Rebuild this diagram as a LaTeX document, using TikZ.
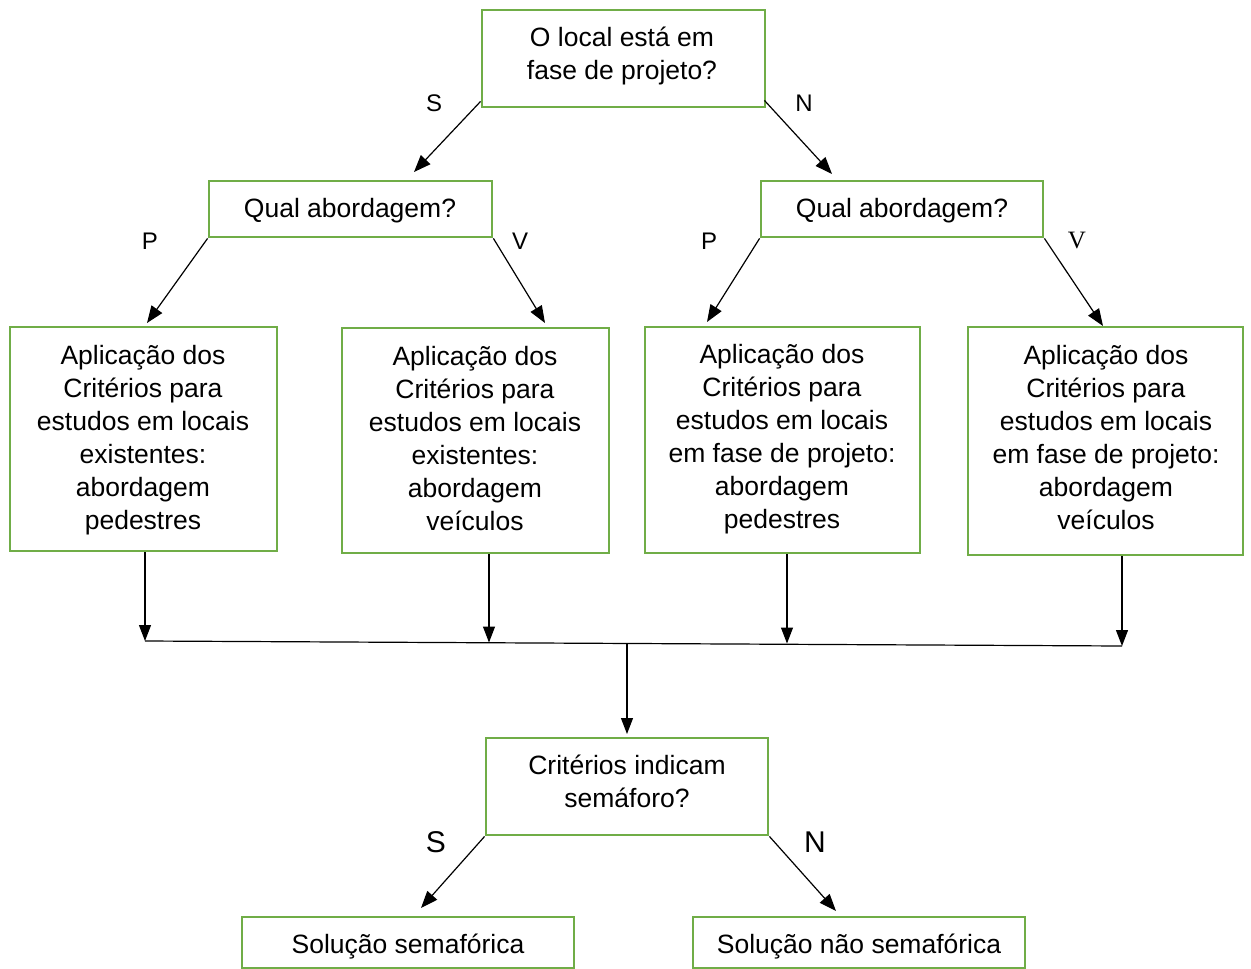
\documentclass[tikz,border=0pt]{standalone}
\usepackage{fontspec}
\setmainfont{Liberation Sans}
\newfontfamily\serifv{Liberation Serif}
\usetikzlibrary{arrows.meta,calc}
\definecolor{boxgreen}{HTML}{70AD47}
\begin{document}
\begin{tikzpicture}[x=1pt,y=-1pt,
  box/.style={draw=boxgreen,line width=2.8pt,rectangle,inner sep=0pt,fill=none},
  txt/.style={align=center,inner sep=0pt,font=\fontsize{26.5}{33}\selectfont},
  lbl/.style={inner sep=0pt,font=\fontsize{24}{27}\selectfont},
  biglbl/.style={inner sep=0pt,font=\fontsize{30}{34}\selectfont},
  arr/.style={line width=1.2pt,-{Triangle[length=17pt,width=13pt]}},
  varr/.style={line width=1.2pt,-{Triangle[length=16pt,width=12pt]}},
  ln/.style={line width=1.2pt}]
\useasboundingbox (0,0) rectangle (1251,969);
\fill[white] (0,0) rectangle (1251,969);

% boxes
\node[box,minimum width=283,minimum height=97] (top) at (623.5,58.5) {};
\node[txt] (toptxt) at (622,56) {O local está em\\fase de projeto?};

\node[box,minimum width=283,minimum height=56] (ql) at (350.5,209) {};
\node[txt] (qltxt) at (350,211) {Qual abordagem?};
\node[box,minimum width=282,minimum height=56] (qr) at (902,209) {};
\node[txt] (qrtxt) at (902,211) {Qual abordagem?};

\node[box,minimum width=267,minimum height=224] (b1) at (143.5,439) {};
\node[txt] (b1txt) at (143,440) {Aplicação dos\\Critérios para\\estudos em locais\\existentes:\\abordagem\\pedestres};
\node[box,minimum width=267,minimum height=225] (b2) at (475.5,440.5) {};
\node[txt] (b2txt) at (475,438.5) {Aplicação dos\\Critérios para\\estudos em locais\\existentes:\\abordagem\\veículos};
\node[box,minimum width=275,minimum height=226] (b3) at (782.5,440) {};
\node[txt] (b3txt) at (782,439) {Aplicação dos\\Critérios para\\estudos em locais\\em fase de projeto:\\abordagem\\pedestres};
\node[box,minimum width=275,minimum height=228] (b4) at (1105.5,441) {};
\node[txt] (b4txt) at (1106,438) {Aplicação dos\\Critérios para\\estudos em locais\\em fase de projeto:\\abordagem\\veículos};

\node[box,minimum width=282,minimum height=97] (cr) at (627,786.5) {};
\node[txt] (crtxt) at (627,781) {Critérios indicam\\semáforo?};

\node[box,minimum width=332,minimum height=51] (ss) at (408,942.5) {};
\node[txt] (sstxt) at (408,947) {Solução semafórica};
\node[box,minimum width=332,minimum height=51] (sn) at (859,942.5) {};
\node[txt] (sntxt) at (859,947) {Solução não semafórica};

% coordinates for arrow ends
\coordinate (tl) at (414,172);
\coordinate (tr) at (832,174);
\coordinate (l1) at (147,323);
\coordinate (l2) at (545,323);
\coordinate (l3) at (707,322);
\coordinate (l4) at (1103,326);
\coordinate (j1) at (145,641);
\coordinate (j2) at (489,642.5);
\coordinate (j3) at (787,643.5);
\coordinate (j4) at (1122,646);
\coordinate (jc) at (627,643);
\coordinate (ce) at (627,734);
\coordinate (sl) at (421,908);
\coordinate (sr) at (836,911);

% arrows
\draw[arr] ($(top.south west)+(0,-7)$) -- (tl);
\draw[arr] ($(top.south east)+(-2,-8)$) -- (tr);
\draw[arr] (ql.south west) -- (l1);
\draw[arr] (ql.south east) -- (l2);
\draw[arr] (qr.south west) -- (l3);
\draw[arr] (qr.south east) -- (l4);

\draw[varr] (b1.south -| j1) -- (j1);
\draw[varr] (b2.south -| j2) -- (j2);
\draw[varr] (b3.south -| j3) -- (j3);
\draw[varr] (b4.south -| j4) -- (j4);
\draw[ln] (j1) -- (j4);
\draw[varr] (jc) -- (ce);

\draw[arr] (cr.south west) -- (sl);
\draw[arr] (cr.south east) -- (sr);

% labels
\node[lbl] (lS) at (434,103) {S};
\node[lbl] (lN) at (804,103) {N};
\node[lbl] (lP1) at (150,241) {P};
\node[lbl] (lV1) at (520,241) {V};
\node[lbl] (lP2) at (709,241) {P};
\node[lbl,font=\serifv\fontsize{25}{27}\selectfont] (lV2) at (1077,241) {V};
\node[biglbl] (lS2) at (436,842) {S};
\node[biglbl] (lN2) at (815,842) {N};
\end{tikzpicture}
\end{document}
